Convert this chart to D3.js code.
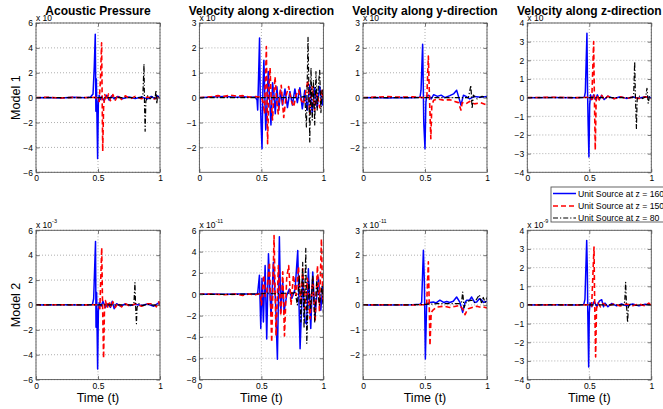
<!DOCTYPE html>
<html><head><meta charset="utf-8">
<script src="https://cdn.jsdelivr.net/npm/d3@7"></script>
<style>
body{margin:0;background:#fff;}
svg{display:block;font-family:"Liberation Sans",Arial,sans-serif;}
</style></head>
<body><svg id="c" width="663" height="409"></svg>
<script>
// ---------- DATA ----------
const panelTitles = ["Acoustic Pressure","Velocity along x-direction","Velocity along y-direction","Velocity along z-direction"];
const rowLabels = ["Model 1","Model 2"];
const seriesNames = ["Unit Source at z = 160","Unit Source at z = 150","Unit Source at z = 80"];
const xTicks = [0, 0.5, 1];
const xTickLabels = ["0","0.5","1"];
// y limits per panel (row-major: model1 p,vx,vy,vz ; model2 p,vx,vy,vz)
const yDomains = [[-6,6],[-3,3],[-3,3],[-4,4],[-6,6],[-8,6],[-3,3],[-4,4]];
const yTicks = [
  [-6,-4,-2,0,2,4,6],[-2,-1,0,1,2,3],[-2,-1,0,1,2,3],[-4,-3,-2,-1,0,1,2,3,4],
  [-6,-4,-2,0,2,4,6],[-8,-6,-4,-2,0,2,4,6],[-2,-1,0,1,2,3],[-4,-3,-2,-1,0,1,2,3,4]];
const exponents = ["","","","","-3","-11","-11","-9"];

// Model 1, acoustic pressure
const m1pBlue = [[0,0],[0.1,0.02],[0.2,-0.02],[0.3,0.03],[0.4,0],[0.44,0.05],[0.46,0.3],[0.47,2.5],[0.478,5.1],[0.483,-1.1],[0.487,1.5],[0.497,-4.9],[0.503,-0.3],[0.51,0.2],[0.52,-0.15],[0.53,0.1],[0.55,-0.25],[0.57,0.2],[0.59,-0.2],[0.61,0.15],[0.63,-0.1],[0.66,0.1],[0.7,-0.08],[0.75,0.05],[0.8,-0.06],[0.85,0.05],[0.9,-0.1],[0.93,0.1],[0.96,-0.1],[0.98,0.15],[1,-0.05]];
const m1pRed = [[0,0],[0.1,0.03],[0.2,-0.02],[0.3,0.02],[0.4,0.01],[0.48,0.02],[0.51,-0.3],[0.52,1.5],[0.529,4.4],[0.533,0.5],[0.538,-4.3],[0.545,-0.8],[0.555,0.25],[0.57,-0.2],[0.585,0.3],[0.6,-0.25],[0.62,0.25],[0.64,-0.2],[0.66,0.2],[0.69,-0.15],[0.72,0.15],[0.76,-0.1],[0.8,0.1],[0.85,-0.08],[0.9,0.05],[0.95,-0.1],[1,0.05]];
const m1pBlack = [[0,0],[0.3,0],[0.6,0.01],[0.85,0],[0.862,0.2],[0.871,2.7],[0.875,-0.5],[0.88,-2.7],[0.886,-0.3],[0.9,0.15],[0.92,-0.1],[0.94,0.1],[0.96,-0.05],[0.968,0.6],[0.974,-0.5],[0.98,0.1],[1,0]];
// Model 1, velocity x
const m1xBlue = [[0,0],[0.1,0.03],[0.2,0.05],[0.3,0.02],[0.35,0.04],[0.4,0.02],[0.45,0.03],[0.465,-0.1],[0.47,-0.5],[0.477,0.8],[0.485,2.4],[0.49,0.2],[0.497,-1.0],[0.505,-2.05],[0.512,0.3],[0.52,1.5],[0.527,0.2],[0.535,-1.3],[0.545,-0.3],[0.555,1.05],[0.565,0.1],[0.577,-1.1],[0.59,0.6],[0.6,0.2],[0.612,-0.65],[0.625,0.44],[0.64,-0.5],[0.655,0.3],[0.67,-0.3],[0.69,0.35],[0.71,-0.4],[0.73,0.25],[0.75,-0.3],[0.77,0.35],[0.79,-0.2],[0.81,0.4],[0.83,-0.45],[0.85,0.3],[0.87,-0.5],[0.89,0.5],[0.91,-0.6],[0.93,0.4],[0.95,-0.4],[0.97,0.45],[0.99,-0.3],[1,0.1]];
const m1xRed = [[0,0],[0.1,0.04],[0.15,0.08],[0.2,0.05],[0.25,0.1],[0.3,0.06],[0.35,0.08],[0.4,0.02],[0.45,0.04],[0.5,0.02],[0.515,-0.2],[0.525,-0.65],[0.54,2.05],[0.55,-1.85],[0.56,0.3],[0.57,1.2],[0.58,-0.2],[0.59,-0.9],[0.6,0.1],[0.61,0.84],[0.625,-0.2],[0.636,-0.65],[0.65,0.2],[0.66,0.5],[0.672,-0.3],[0.68,-0.8],[0.7,0.1],[0.72,0.45],[0.74,-0.1],[0.76,-0.37],[0.78,0.1],[0.8,0.3],[0.82,-0.1],[0.84,-0.25],[0.86,0.3],[0.875,0.7],[0.89,-0.65],[0.91,0.44],[0.93,-0.5],[0.95,0.18],[0.97,-0.4],[0.99,0.3],[1,-0.1]];
const m1xBlack = [[0,0],[0.3,0],[0.6,0],[0.8,0],[0.85,0.05],[0.863,-1.18],[0.876,2.42],[0.89,-1.78],[0.9,1.2],[0.91,-0.9],[0.92,0.7],[0.93,-1.1],[0.94,1.05],[0.95,-0.5],[0.96,0.5],[0.97,1.1],[0.98,-0.6],[0.99,0.3],[1,-0.1]];
// Model 1, velocity y
const m1yBlue = [[0,0],[0.1,0.01],[0.2,-0.01],[0.3,0.01],[0.4,0],[0.46,0.02],[0.468,0.3],[0.481,2.15],[0.486,0.5],[0.49,-1.0],[0.5,-2.05],[0.507,-0.2],[0.513,0.05],[0.53,0.1],[0.55,-0.05],[0.57,0.12],[0.6,0.05],[0.63,0.1],[0.66,0.0],[0.7,0.08],[0.73,0.15],[0.755,0.3],[0.77,0.05],[0.79,-0.3],[0.81,0.1],[0.83,0.05],[0.86,-0.05],[0.9,0.05],[0.95,0.02],[1,0.05]];
const m1yRed = [[0,0],[0.1,0.02],[0.2,0.04],[0.3,0.02],[0.4,0.03],[0.5,0.0],[0.515,0.02],[0.527,1.67],[0.535,0.2],[0.547,-1.65],[0.555,-0.3],[0.57,-0.1],[0.6,-0.05],[0.65,-0.1],[0.7,-0.08],[0.74,-0.15],[0.77,-0.2],[0.79,-0.5],[0.8,-0.2],[0.83,-0.25],[0.86,-0.15],[0.9,-0.25],[0.95,-0.2],[1,-0.3]];
const m1yBlack = [[0,0],[0.5,0],[0.85,0],[0.87,0.5],[0.88,-0.45],[0.89,0.1],[0.92,-0.05],[0.96,0.05],[1,0]];
// Model 1, velocity z
const m1zBlue = [[0,0],[0.2,0.01],[0.4,0],[0.46,0.02],[0.468,0.3],[0.481,3.45],[0.486,0.3],[0.491,-1.5],[0.497,-3.18],[0.503,-0.4],[0.51,0.15],[0.52,-0.1],[0.535,0.15],[0.55,-0.1],[0.565,0.15],[0.58,-0.1],[0.6,0.12],[0.62,-0.1],[0.65,0.08],[0.7,-0.05],[0.75,0.05],[0.8,-0.04],[0.85,0.03],[0.9,-0.03],[0.95,0.05],[1,0]];
const m1zRed = [[0,0],[0.2,0.02],[0.4,0.0],[0.5,0.02],[0.52,-0.1],[0.535,3.0],[0.54,0.5],[0.548,-2.8],[0.555,-0.2],[0.565,0.15],[0.58,-0.12],[0.6,0.12],[0.62,-0.1],[0.65,0.08],[0.7,-0.06],[0.75,0.05],[0.8,-0.05],[0.85,0.04],[0.9,-0.05],[0.95,0.05],[1,-0.05]];
const m1zBlack = [[0,0],[0.5,0],[0.85,0],[0.858,0.2],[0.866,1.93],[0.872,0],[0.88,-1.65],[0.886,-0.1],[0.9,0.1],[0.93,-0.05],[0.955,0.05],[0.965,0.5],[0.975,-0.3],[0.985,0.05],[1,0]];
// Model 2, acoustic pressure
const m2pBlue = [[0,0],[0.2,0.01],[0.4,0],[0.455,0.03],[0.465,0.5],[0.48,5.1],[0.484,-1.8],[0.489,1.0],[0.497,-5.15],[0.503,-0.5],[0.51,0.2],[0.525,-0.1],[0.54,0.3],[0.56,-0.2],[0.58,0.1],[0.6,-0.2],[0.615,0.3],[0.63,-0.3],[0.65,0.1],[0.68,-0.1],[0.72,0.08],[0.76,-0.05],[0.8,0.05],[0.85,-0.05],[0.9,0.08],[0.95,-0.1],[0.98,0.1],[1,0.25]];
const m2pRed = [[0,0],[0.2,0.02],[0.4,0.01],[0.5,0.02],[0.515,-0.3],[0.53,4.6],[0.536,0.5],[0.545,-4.3],[0.552,-0.5],[0.56,0.35],[0.575,-0.25],[0.59,0.3],[0.605,-0.2],[0.62,0.25],[0.64,-0.2],[0.66,0.15],[0.69,-0.15],[0.72,0.1],[0.76,-0.1],[0.8,0.1],[0.85,-0.1],[0.9,0.1],[0.95,0.1],[0.97,-0.15],[0.99,0.25],[1,-0.1]];
const m2pBlack = [[0,0],[0.5,0],[0.78,0],[0.79,0.2],[0.798,1.8],[0.803,0],[0.81,-1.5],[0.815,-0.2],[0.83,0.1],[0.86,-0.05],[0.9,0.05],[0.95,-0.02],[1,0]];
// Model 2, velocity x
const m2xBlue = [[0,0],[0.1,0.02],[0.2,0],[0.3,0.03],[0.4,0.02],[0.45,0],[0.47,0.1],[0.484,1.78],[0.495,-3.2],[0.505,1.5],[0.516,-2.6],[0.53,2.7],[0.543,-4.2],[0.557,3.8],[0.57,-0.1],[0.578,-2.0],[0.597,3.0],[0.615,-1.0],[0.629,-6.1],[0.645,5.4],[0.656,-1.7],[0.672,1.2],[0.683,-1.6],[0.704,-0.1],[0.725,0.5],[0.745,-0.4],[0.772,0.5],[0.793,4.1],[0.812,-5.1],[0.833,1.5],[0.852,-2.6],[0.865,-2.8],[0.879,2.4],[0.898,-3.2],[0.914,2.1],[0.933,-2.0],[0.96,1.6],[0.979,-1.5],[0.995,0.8],[1,0.2]];
const m2xRed = [[0,0],[0.1,0.03],[0.2,-0.05],[0.3,0.02],[0.35,-0.1],[0.4,0.03],[0.45,-0.05],[0.49,0.05],[0.5,-1.0],[0.519,1.8],[0.53,-0.2],[0.543,0.1],[0.565,3.0],[0.583,-4.5],[0.602,5.5],[0.618,-3.9],[0.637,2.7],[0.656,-2.0],[0.672,2.1],[0.686,-3.9],[0.704,1.5],[0.72,2.7],[0.739,-1.0],[0.758,1.8],[0.78,-0.1],[0.799,2.6],[0.818,-1.0],[0.833,2.4],[0.852,-1.4],[0.871,1.5],[0.892,-2.3],[0.914,1.5],[0.933,-2.6],[0.952,2.7],[0.968,-1.6],[0.984,5.2],[0.995,-0.7],[1,0.5]];
const m2xBlack = [[0,0],[0.3,0],[0.5,0.05],[0.55,0.1],[0.6,0.05],[0.7,0.1],[0.758,0.1],[0.772,0.2],[0.79,-1.0],[0.806,1.8],[0.818,-2.6],[0.833,3.0],[0.844,-3.2],[0.858,4.3],[0.866,-4.6],[0.882,1.2],[0.898,-1.4],[0.914,1.8],[0.93,-2.6],[0.946,1.2],[0.968,-1.0],[0.989,0.8],[1,-1.8]];
// Model 2, velocity y
const m2yBlue = [[0,0],[0.2,0],[0.4,0.01],[0.46,0.03],[0.473,0.1],[0.487,2.2],[0.495,0.9],[0.503,-2.17],[0.513,0.05],[0.54,0.1],[0.567,0.12],[0.59,0.08],[0.62,0.19],[0.65,0.1],[0.675,0.14],[0.7,0.1],[0.728,0.15],[0.755,0.32],[0.782,0.1],[0.804,-0.3],[0.823,0.1],[0.836,0.19],[0.86,0.2],[0.876,0.32],[0.9,0.1],[0.917,0.12],[0.938,0.25],[0.957,0.2],[0.97,0.1],[1,0.15]];
const m2yRed = [[0,0],[0.2,0.01],[0.4,0],[0.5,0.01],[0.513,0.0],[0.527,1.73],[0.533,0.3],[0.54,-1.63],[0.55,-0.3],[0.562,-0.22],[0.594,-0.09],[0.65,-0.05],[0.7,-0.1],[0.75,-0.05],[0.782,-0.02],[0.81,-0.2],[0.823,-0.39],[0.836,-0.25],[0.849,-0.15],[0.88,-0.1],[0.917,-0.05],[0.95,-0.1],[0.97,-0.08],[1,-0.12]];
const m2yBlack = [[0,0],[0.3,0],[0.5,0.02],[0.6,0.05],[0.7,0.05],[0.782,0.05],[0.795,0.12],[0.804,0.52],[0.815,-0.1],[0.836,0.14],[0.876,0.19],[0.9,0.1],[0.938,0.41],[0.957,0.05],[0.97,0.3],[0.985,0.1],[1,0.3]];
// Model 2, velocity z
const m2zBlue = [[0,0],[0.2,0.01],[0.4,0],[0.455,0.02],[0.465,0.3],[0.479,3.46],[0.484,1.9],[0.488,-0.5],[0.495,-3.33],[0.5,-0.4],[0.506,0.11],[0.52,-0.1],[0.54,0.2],[0.56,-0.1],[0.58,0.2],[0.6,0.28],[0.615,-0.1],[0.627,0.1],[0.65,-0.1],[0.68,0.08],[0.72,-0.05],[0.76,0.05],[0.8,-0.05],[0.85,0.05],[0.9,-0.05],[0.95,0.04],[1,0]];
const m2zRed = [[0,0],[0.2,0.01],[0.4,0],[0.5,0.01],[0.519,-0.07],[0.538,3.1],[0.543,0.3],[0.551,-2.79],[0.558,-0.2],[0.57,0.1],[0.59,-0.1],[0.61,0.08],[0.64,-0.06],[0.7,0.05],[0.75,-0.05],[0.8,0.05],[0.85,-0.04],[0.9,0.05],[0.95,-0.05],[0.98,0.1],[1,-0.05]];
const m2zBlack = [[0,0],[0.5,0],[0.78,0],[0.786,0.2],[0.793,1.21],[0.8,0],[0.809,-0.93],[0.815,-0.1],[0.83,0.05],[0.87,-0.03],[0.92,0.02],[1,0]];

const panelSeries = [
  [m1pBlue,m1pRed,m1pBlack],[m1xBlue,m1xRed,m1xBlack],[m1yBlue,m1yRed,m1yBlack],[m1zBlue,m1zRed,m1zBlack],
  [m2pBlue,m2pRed,m2pBlack],[m2xBlue,m2xRed,m2xBlack],[m2yBlue,m2yRed,m2yBlack],[m2zBlue,m2zRed,m2zBlack]];

// ---------- STYLE / LAYOUT ----------
const styles = [
  {color:"#0000ff", dash:null, width:1.5},
  {color:"#ff0000", dash:"5,3", width:1.6},
  {color:"#000000", dash:"5,2,1.2,2", width:1.2}];
const colLeft = [36, 199.4, 363, 527.3];
const rowTop = [23, 230.3];
const W = 124, H = 149.3;

const svg = d3.select("#c");
const defs = svg.append("defs");
defs.append("clipPath").attr("id","clip").append("rect").attr("width",W).attr("height",H);

panelSeries.forEach((series, i) => {
  const r = Math.floor(i/4), c = i % 4;
  const g = svg.append("g").attr("transform",`translate(${colLeft[c]},${rowTop[r]})`);
  const x = d3.scaleLinear().domain([0,1]).range([0,W]);
  const y = d3.scaleLinear().domain(yDomains[i]).range([H,0]);

  // grid
  const grid = g.append("g").attr("stroke","#9a9a9a").attr("stroke-width",0.8).attr("stroke-dasharray","1,2");
  xTicks.forEach(t => grid.append("line").attr("x1",x(t)).attr("x2",x(t)).attr("y1",0).attr("y2",H));
  yTicks[i].forEach(t => grid.append("line").attr("x1",0).attr("x2",W).attr("y1",y(t)).attr("y2",y(t)));

  // lines
  const line = d3.line().x(d => x(d[0])).y(d => y(d[1]));
  const lg = g.append("g").attr("clip-path","url(#clip)");
  series.forEach((s, k) => {
    lg.append("path").datum(s).attr("d",line).attr("fill","none")
      .attr("stroke",styles[k].color).attr("stroke-width",styles[k].width)
      .attr("stroke-dasharray",styles[k].dash).attr("stroke-linejoin","round");
  });

  // axes
  const fmt = (d) => xTickLabels[xTicks.indexOf(d)];
  g.append("g").attr("transform",`translate(0,${H})`)
    .call(d3.axisBottom(x).tickValues(xTicks).tickFormat(fmt).tickSize(-3.5).tickPadding(3));
  g.append("g")
    .call(d3.axisLeft(y).tickValues(yTicks[i]).tickFormat(d3.format("d")).tickSize(-3.5).tickPadding(3));
  g.append("g").call(d3.axisTop(x).tickValues(xTicks).tickFormat("").tickSize(-3.5));
  g.append("g").attr("transform",`translate(${W},0)`).call(d3.axisRight(y).tickValues(yTicks[i]).tickFormat("").tickSize(-3.5));
  g.selectAll(".domain").remove();
  g.selectAll(".tick line").attr("stroke","#555").attr("stroke-width",0.8);
  g.selectAll(".tick text").attr("font-size",8.5).attr("fill","#000").attr("font-family","Liberation Sans, Arial, sans-serif");
  g.append("rect").attr("width",W).attr("height",H).attr("fill","none").attr("stroke","#555").attr("stroke-width",0.9);

  // exponent
  const ex = g.append("text").attr("x",0).attr("y",-2.5).attr("font-size",8.5).attr("fill","#000");
  ex.append("tspan").text("x 10");
  if (exponents[i]) ex.append("tspan").attr("font-size",5.5).attr("dy",-4.5).text(exponents[i]);

  // titles
  if (r === 0) {
    svg.append("text").attr("x",colLeft[c]+W/2).attr("y",14.5).attr("text-anchor","middle")
      .attr("font-size",12).attr("font-weight","bold").attr("fill","#000").text(panelTitles[c]);
  }
  if (r === 1) {
    svg.append("text").attr("x",colLeft[c]+W/2).attr("y",401.5).attr("text-anchor","middle")
      .attr("font-size",12.5).attr("fill","#000").text("Time (t)");
  }
  if (c === 0) {
    svg.append("text").attr("transform",`translate(15.5,${rowTop[r]+H/2}) rotate(-90)`)
      .attr("text-anchor","middle").attr("dy","0.35em").attr("font-size",12.5).attr("fill","#000").text(rowLabels[r]);
  }
});

// legend
const leg = svg.append("g").attr("transform","translate(551,187)");
leg.append("rect").attr("width",130).attr("height",35).attr("fill","#fff").attr("stroke","#555").attr("stroke-width",0.9);
const legY = [6.5, 19, 31];
seriesNames.forEach((n, k) => {
  leg.append("line").attr("x1",2).attr("x2",25).attr("y1",legY[k]).attr("y2",legY[k])
    .attr("stroke",styles[k].color).attr("stroke-width",styles[k].width).attr("stroke-dasharray",styles[k].dash);
  leg.append("text").attr("x",27).attr("y",legY[k]+3).attr("font-size",8.7).attr("fill","#000").text(n);
});
</script>
</body></html>
